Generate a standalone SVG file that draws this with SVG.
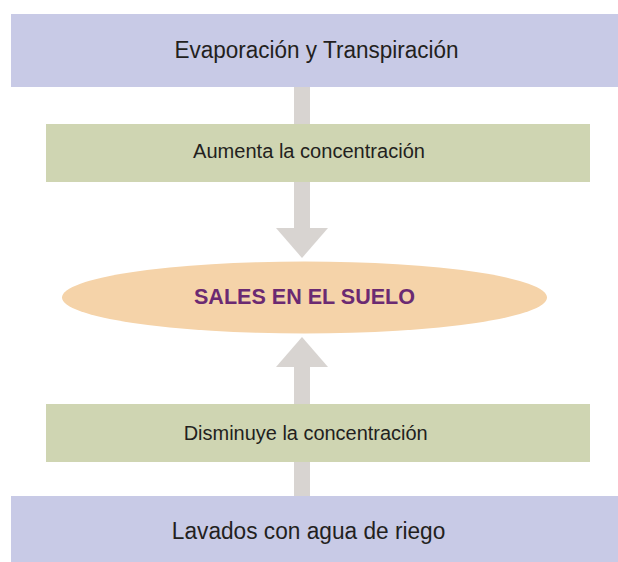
<svg xmlns="http://www.w3.org/2000/svg" width="618" height="562" viewBox="0 0 618 562">
<style>
.blue{fill:#c8cae6}
.green{fill:#cfd5b2}
.arrow{fill:#d8d4d1}
.t{font-family:"Liberation Sans",Arial,sans-serif;fill:#231f20;text-anchor:middle}
.big{font-size:23px}
.mid{font-size:20px}
.sal{font-family:"Liberation Sans",Arial,sans-serif;font-weight:bold;font-size:21.5px;fill:#6b2a72;text-anchor:middle}
</style>
<rect width="618" height="562" fill="#ffffff"/>
<g id="connectors">
<rect class="arrow" x="294" y="86" width="16" height="143"/>
<polygon class="arrow" points="276,228 328,228 302,258"/>
<rect class="arrow" x="294" y="366" width="16" height="131"/>
<polygon class="arrow" points="276,367 328,367 302,337"/>
</g>
<g id="evaporacion">
<rect class="blue" x="11" y="14" width="607" height="73"/>
<text class="t big" x="316.5" y="58.3" textLength="284" lengthAdjust="spacingAndGlyphs">Evaporación y Transpiración</text>
</g>
<g id="aumenta">
<rect class="green" x="46" y="124" width="544" height="58"/>
<text class="t mid" x="309" y="158.3" textLength="232" lengthAdjust="spacingAndGlyphs">Aumenta la concentración</text>
</g>
<g id="sales">
<ellipse cx="304.5" cy="297.5" rx="242.5" ry="36" fill="#f5d3a9"/>
<text class="sal" x="304.5" y="304" textLength="221" lengthAdjust="spacingAndGlyphs">SALES EN EL SUELO</text>
</g>
<g id="disminuye">
<rect class="green" x="46" y="404" width="544" height="58"/>
<text class="t mid" x="305.7" y="440" textLength="244" lengthAdjust="spacingAndGlyphs">Disminuye la concentración</text>
</g>
<g id="lavados">
<rect class="blue" x="11" y="496" width="607" height="66"/>
<text class="t big" x="308.6" y="539.3" textLength="273.5" lengthAdjust="spacingAndGlyphs">Lavados con agua de riego</text>
</g>
</svg>
